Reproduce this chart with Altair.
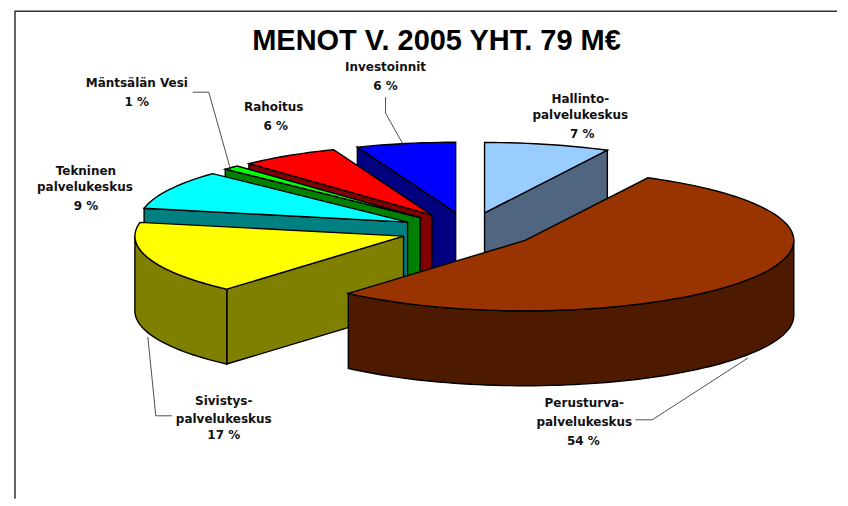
import math
import altair as alt
import pandas as pd

# Chart data
names = ["Hallinto", "Perusturva", "Sivistys", "Tekninen", "Mäntsälän Vesi", "Rahoitus", "Investoinnit"]
shares = [7.6, 54.2, 16.8, 9.0, 1.0, 6.0, 6.0]
top_colors = ["#99CCFF", "#993300", "#FFFF00", "#00FFFF", "#00FF00", "#FF0000", "#0000FF"]
wall_colors = ["#4F6580", "#4D1A00", "#808000", "#008080", "#008000", "#800000", "#000080"]
draw_order = [0, 6, 5, 4, 3, 2, 1]

# Pie projection settings
cx0, cy0, rx, ry, depth, explode = 469.0, 227.3, 269.0, 70.5, 75.0, 0.255

label_text = ["MENOT V. 2005 YHT. 79 M€"]
label_lines = ["Investoinnit", "6 %", "Mäntsälän Vesi", "1 %", "Rahoitus", "6 %",
               "Tekninen", "palvelukeskus", "9 %", "Hallinto-", "palvelukeskus", "7 %",
               "Sivistys-", "palvelukeskus", "17 %", "Perusturva-", "palvelukeskus", "54 %"]
label_x = [386, 386, 137, 137, 274, 276, 86, 85, 86, 581, 581, 583, 224, 224, 224, 585, 585, 584]
label_y = [64, 83, 80, 99, 104, 123, 168, 184, 203, 96, 112, 131, 398, 416, 432, 400, 419, 438]

leader_id = [0, 0, 0, 1, 1, 1, 2, 2, 2, 3, 3, 3]
leader_x = [193, 209, 231, 386, 386, 404, 148, 156, 172, 636, 653, 749]
leader_y = [89, 89, 167, 94, 110, 142, 334, 413, 413, 417, 417, 355]

frame_x = [838, 15, 15]
frame_y = [8, 8, 496]

total = sum(shares)
rows = []
poly_id = 0


def add_poly(points, color):
    global poly_id
    pts = list(points) + [points[0]]
    for i, (x, y) in enumerate(pts):
        rows.append({"poly": f"p{poly_id:03d}", "i": i, "x": x, "y": y, "fill": color})
    poly_id += 1


starts = []
angle = 0.0
for s in shares:
    starts.append(angle)
    angle += s / total * 2 * math.pi

for k in draw_order:
    a = starts[k]
    b = a + shares[k] / total * 2 * math.pi
    mid = (a + b) / 2
    cx = cx0 + explode * rx * math.sin(mid)
    cy = cy0 - explode * ry * math.cos(mid)

    def pt(t):
        return (cx + rx * math.sin(t), cy - ry * math.cos(t))

    n = max(3, int((b - a) / 0.03))
    arc = [pt(a + (b - a) * j / n) for j in range(n + 1)]

    # radial walls facing the viewer
    if math.sin(a) < 0:
        p = pt(a)
        add_poly([(cx, cy), p, (p[0], p[1] + depth), (cx, cy + depth)], wall_colors[k])
    if math.sin(b) > 0:
        p = pt(b)
        add_poly([(cx, cy), p, (p[0], p[1] + depth), (cx, cy + depth)], wall_colors[k])
    # outer wall, front half of the rim only
    lo, hi = max(a, math.pi / 2), min(b, 3 * math.pi / 2)
    if hi > lo:
        m = max(3, int((hi - lo) / 0.03))
        rim = [pt(lo + (hi - lo) * j / m) for j in range(m + 1)]
        add_poly(rim + [(x, y + depth) for x, y in reversed(rim)], wall_colors[k])
    # top face
    add_poly([(cx, cy)] + arc, top_colors[k])

polys = pd.DataFrame(rows)

X = alt.X("x:Q", axis=None, scale=alt.Scale(domain=[8, 838], nice=False, zero=False))
Y = alt.Y("y:Q", axis=None, scale=alt.Scale(domain=[496, 8], nice=False, zero=False))

pie = alt.Chart(polys).mark_line(filled=True, stroke="black", strokeWidth=1.4, strokeJoin="miter", clip=False).encode(
    x=X, y=Y,
    fill=alt.Fill("fill:N", scale=None),
    detail="poly:N",
    order="i:Q",
)

leaders = alt.Chart(pd.DataFrame({"id": leader_id, "x": leader_x, "y": leader_y, "i": range(len(leader_x))})).mark_line(
    color="#222222", strokeWidth=0.8
).encode(x=X, y=Y, detail="id:N", order="i:Q")

frame = alt.Chart(pd.DataFrame({"x": frame_x, "y": frame_y, "i": range(3)})).mark_line(
    color="#333333", strokeWidth=1.5
).encode(x=X, y=Y, order="i:Q")

labels = alt.Chart(pd.DataFrame({"t": label_lines, "x": label_x, "y": label_y})).mark_text(
    font="DejaVu Sans", fontWeight="bold", fontSize=12, color="#111111", align="center", baseline="middle"
).encode(x=X, y=Y, text="t:N")

title = alt.Chart(pd.DataFrame({"t": label_text, "x": [437], "y": [38]})).mark_text(
    font="Liberation Sans", fontWeight="bold", fontSize=29, color="black", align="center", baseline="middle"
).encode(x=X, y=Y, text="t:N")

chart = alt.layer(frame, pie, leaders, labels, title).properties(
    width=830, height=488, padding=0, background="white"
).configure_view(stroke=None)

chart.save("out.html", embed_options={"renderer": "svg", "actions": False})
